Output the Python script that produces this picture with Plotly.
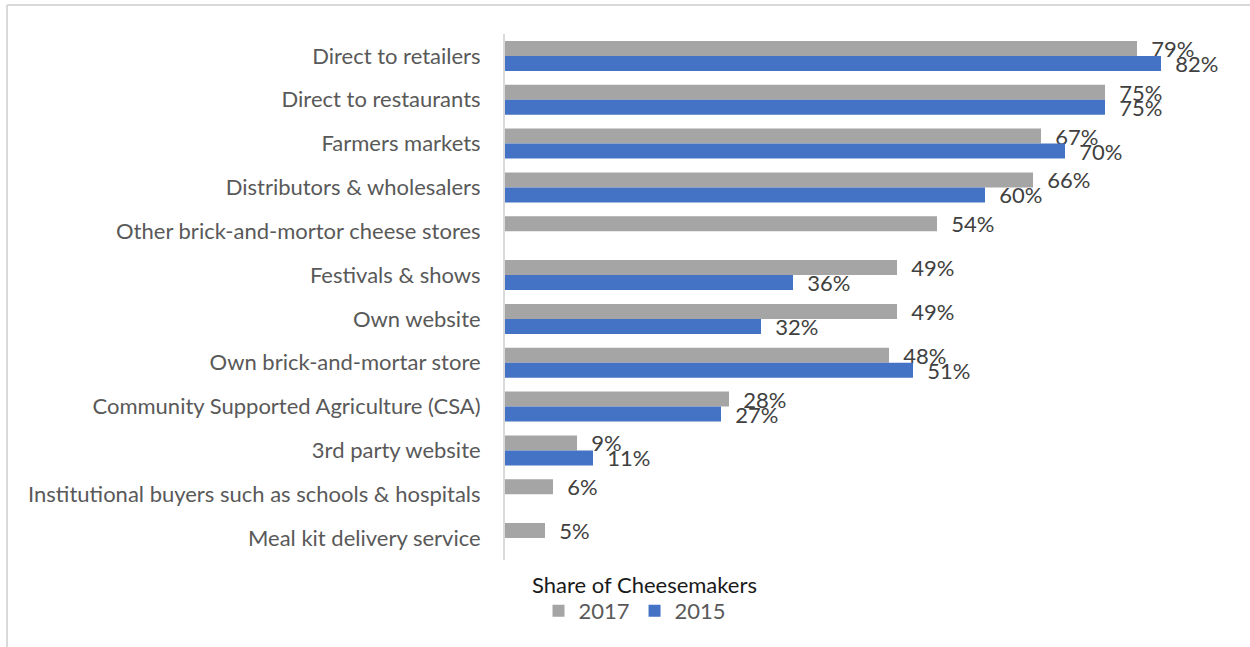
import plotly.graph_objects as go

# Sales channels used by cheesemakers, share in percent
channels = [
    "Direct to retailers",
    "Direct to restaurants",
    "Farmers markets",
    "Distributors & wholesalers",
    "Other brick-and-mortor cheese stores",
    "Festivals & shows",
    "Own website",
    "Own brick-and-mortar store",
    "Community Supported Agriculture (CSA)",
    "3rd party website",
    "Institutional buyers such as schools & hospitals",
    "Meal kit delivery service",
]
share_2017 = [79, 75, 67, 66, 54, 49, 49, 48, 28, 9, 6, 5]
share_2015 = [82, 75, 70, 60, None, 36, 32, 51, 27, 11, None, None]

GRAY = "#A5A5A5"
BLUE = "#4472C4"
FONT = "Lato"
FS = 22

# pixel geometry of the plotting area
W, H = 1250, 647
L, R, T, B = 505, 25, 34, 87
PW, PH = W - L - R, H - T - B


def px_x(p):
    return (p - L) / PW


def px_y(p):
    return (H - B - p) / PH


fig = go.Figure()
for name, vals, col in [("2017", share_2017, GRAY), ("2015", share_2015, BLUE)]:
    fig.add_trace(go.Bar(
        y=channels, x=vals, name=name, orientation="h",
        marker=dict(color=col, line=dict(width=0)),
        texttemplate="\u00a0\u00a0%{x}%", textposition="outside",
        textfont=dict(family=FONT, size=FS, color="#404040"),
        cliponaxis=False, constraintext="none",
    ))

fig.update_layout(
    width=W, height=H,
    margin=dict(l=L, r=R, t=T, b=B),
    paper_bgcolor="white", plot_bgcolor="white",
    barmode="group", bargap=0.315, bargroupgap=0,
    font=dict(family=FONT, size=FS, color="#595959"),
    xaxis=dict(range=[0, 90], showgrid=False, zeroline=False,
               showticklabels=False, showline=False, ticks=""),
    yaxis=dict(autorange="reversed", showgrid=False, showline=True,
               linecolor="#D9D9D9", linewidth=2, ticks="",
               ticklabelstandoff=18,
               tickfont=dict(family=FONT, size=FS, color="#595959")),
    showlegend=True,
    legend=dict(orientation="h", x=px_x(635), xanchor="center",
                y=px_y(611), yanchor="middle",
                font=dict(family=FONT, size=FS, color="#595959"),
                traceorder="normal", itemwidth=30),
    annotations=[dict(
        text="Share of Cheesemakers", x=px_x(644), y=px_y(584),
        xref="paper", yref="paper", showarrow=False,
        xanchor="center", yanchor="middle",
        font=dict(family=FONT, size=FS, color="#1A1A1A"),
    )],
    shapes=[
        dict(type="line", xref="paper", yref="paper",
             x0=px_x(7), x1=px_x(1260), y0=px_y(5), y1=px_y(5),
             line=dict(color="#D9D9D9", width=2)),
        dict(type="line", xref="paper", yref="paper",
             x0=px_x(7), x1=px_x(7), y0=px_y(5), y1=px_y(660),
             line=dict(color="#D9D9D9", width=2)),
    ],
)

fig.write_html("out.html")
